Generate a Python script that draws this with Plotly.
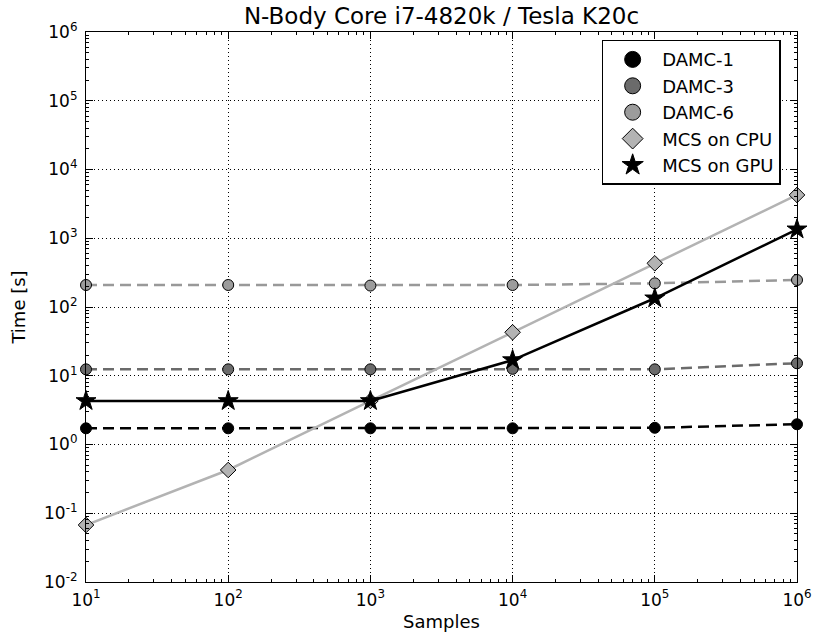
import plotly.graph_objects as go

samples = [1e1, 1e2, 1e3, 1e4, 1e5, 1e6]
damc1 = [1.72, 1.72, 1.72, 1.72, 1.75, 1.97]
damc3 = [12.4, 12.4, 12.4, 12.6, 12.4, 15.2]
damc6 = [209, 209, 205, 209, 221, 247]
mcs_cpu = [0.0675, 0.426, 4.3, 42.9, 432, 4260]
mcs_gpu = [4.3, 4.3, 4.3, 16.9, 134, 1350]

ytick_exp = [-2, -1, 0, 1, 2, 3, 4, 5, 6]
xtick_exp = [1, 2, 3, 4, 5, 6]

FONT = "DejaVu Sans"

fig = go.Figure()

series = [
    ("DAMC-1", damc1, "#000000", "#000000", "circle", 11, "11px,6px"),
    ("DAMC-3", damc3, "#6b6b6b", "#6b6b6b", "circle", 11, "11px,6px"),
    ("DAMC-6", damc6, "#999999", "#9c9c9c", "circle", 11, "11px,6px"),
    ("MCS on CPU", mcs_cpu, "#b3b3b3", "#b3b3b3", "diamond", 12, "solid"),
    ("MCS on GPU", mcs_gpu, "#000000", "#000000", "star", 15, "solid"),
]

for name, vals, lcol, mcol, sym, size, dash in series:
    fig.add_trace(go.Scatter(
        x=samples, y=vals, name=name, mode="lines+markers",
        line=dict(color=lcol, width=2.5, dash=dash),
        marker=dict(symbol=sym, size=size, color=mcol,
                    line=dict(color="#000000", width=1)),
        cliponaxis=False, showlegend=False,
    ))

# legend-only entries (markers only, like the reference legend)
for name, vals, lcol, mcol, sym, size, dash in series:
    fig.add_trace(go.Scatter(
        x=[None], y=[None], name=name, mode="markers",
        marker=dict(symbol=sym, size=16, color=mcol,
                    line=dict(color="#000000", width=1)),
        legendgroup=name, showlegend=True,
    ))

def sup_label(e):
    s = str(e) if e >= 0 else "-" + str(-e)
    return "10<sup>" + s + "</sup>"

axis_common = dict(
    type="log", automargin=False,
    showline=True, linecolor="black", linewidth=1.2, mirror="ticks",
    ticks="inside", ticklen=7, tickwidth=1, tickcolor="black",
    showgrid=True, gridcolor="black", gridwidth=1, griddash="1px,3px",
    zeroline=False,
    tickfont=dict(family=FONT, size=17, color="black"),
    minor=dict(ticks="inside", ticklen=3, tickcolor="black", tickwidth=1,
               dtick="D1", showgrid=False),
)

fig.update_xaxes(
    range=[1, 6],
    tickvals=[10 ** e for e in xtick_exp],
    ticktext=[sup_label(e) for e in xtick_exp],
    ticklabelstandoff=2,
    title=dict(text="Samples", font=dict(family=FONT, size=18, color="black"), standoff=6),
    **axis_common,
)
fig.update_yaxes(
    range=[-2, 6],
    tickvals=[10 ** e for e in ytick_exp],
    ticktext=[sup_label(e) for e in ytick_exp],
    ticklabelstandoff=4,
    title=dict(text="Time [s]", font=dict(family=FONT, size=18, color="black"), standoff=13),
    **axis_common,
)

fig.update_layout(
    width=814, height=642,
    margin=dict(l=86, r=17, t=32, b=60),
    paper_bgcolor="white", plot_bgcolor="white",
    title=dict(text="N-Body Core i7-4820k / Tesla K20c", x=0.5, xref="paper", xanchor="center",
               y=1 - 16 / 642, yref="container", yanchor="middle",
               font=dict(family=FONT, size=23, color="black")),
    font=dict(family=FONT, color="black"),
    legend=dict(
        x=0.977, y=0.986, xanchor="right", yanchor="top",
        bgcolor="white", bordercolor="black", borderwidth=1.5,
        font=dict(family=FONT, size=18, color="black"),
        itemsizing="trace", itemwidth=49,
        traceorder="grouped", tracegroupgap=0,
    ),
    showlegend=True,
)

fig.write_html("out.html", post_script="document.body.style.margin='0px';",
               config={"displayModeBar": False})
